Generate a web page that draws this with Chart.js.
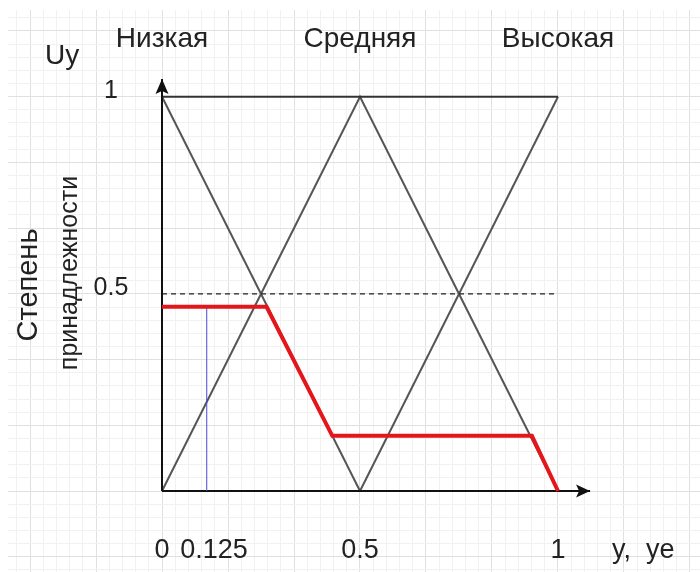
<!DOCTYPE html>
<html><head><meta charset="utf-8">
<script src="https://cdn.jsdelivr.net/npm/chart.js@4/dist/chart.umd.min.js"></script>
<style>html,body{margin:0;padding:0;background:#fff}canvas{display:block}</style>
</head><body>
<canvas id="c" width="700" height="572"></canvas>
<script>
// ---- data ----
const categories = ['Низкая', 'Средняя', 'Высокая'];
const categoryCenters = [0, 0.5, 1];
const xTickValues = [0, 0.125, 0.5, 1];
const xTickLabels = ['0', '0.125', '0.5', '1'];
const yTickValues = [1, 0.5];
const yTickLabels = ['1', '0.5'];
const yAxisTitle = ['Степень', 'принадлежности'];
const yAxisName = 'Uy';
const xAxisName = 'y,  ye';

const lowX = [0, 0.5],        lowY = [1, 0];
const midX = [0, 0.5, 1],     midY = [0, 1, 0];
const highX = [0.5, 1],       highY = [0, 1];
const topX = [0, 1],          topY = [1, 1];
const resultX = [0, 0.264, 0.43, 0.934, 1];
const resultY = [0.467, 0.467, 0.14, 0.14, 0];
const inputX = [0.113, 0.113], inputY = [0, 0.467];
const halfX = [0, 1],         halfY = [0.5, 0.5];
const xAxisX = [0, 1.081],    xAxisY = [0, 0];
const yAxisX = [0, 0],        yAxisY = [0, 1.045];

// ---- helpers ----
const pts = (xs, ys) => xs.map((x, i) => ({x, y: ys[i]}));
const line = (xs, ys, color, width, order, extra) => Object.assign({
  data: pts(xs, ys), showLine: true, borderColor: color, borderWidth: width,
  pointRadius: 0, pointHoverRadius: 0, fill: false, tension: 0, order
}, extra || {});

function gridTicks(scale) {
  const t = [];
  const a = Math.ceil(scale.min * 30 - 1e-9), b = Math.floor(scale.max * 30 + 1e-9);
  for (let k = a; k <= b; k++) t.push({value: k / 30});
  scale.ticks = t;
}
const gridColor = c => (Math.abs(Math.round(c.tick.value * 30)) % 5 === 0) ? '#e0e0e0' : '#f1f1f1';

const textPlugin = {
  id: 'texts',
  afterDatasetsDraw(chart) {
    const {ctx, scales: {x, y}} = chart;
    ctx.save();
    // arrow heads
    ctx.fillStyle = '#111';
    const ytx = x.getPixelForValue(yAxisX[1]), yty = y.getPixelForValue(yAxisY[1]);
    ctx.beginPath(); ctx.moveTo(ytx, yty); ctx.lineTo(ytx - 6.5, yty + 15); ctx.lineTo(ytx, yty + 12); ctx.lineTo(ytx + 6.5, yty + 15); ctx.closePath(); ctx.fill();
    const xtx = x.getPixelForValue(xAxisX[1]), xty = y.getPixelForValue(xAxisY[1]);
    ctx.beginPath(); ctx.moveTo(xtx, xty); ctx.lineTo(xtx - 14, xty - 6.5); ctx.lineTo(xtx - 11, xty); ctx.lineTo(xtx - 14, xty + 6.5); ctx.closePath(); ctx.fill();

    ctx.fillStyle = '#222';
    ctx.textBaseline = 'alphabetic';
    // category names
    ctx.font = '28px "Liberation Sans", Arial, sans-serif';
    ctx.textAlign = 'center';
    categories.forEach((c, i) => ctx.fillText(c, x.getPixelForValue(categoryCenters[i]), 47));
    // y axis name
    ctx.font = '28px "Liberation Sans", Arial, sans-serif';
    ctx.textAlign = 'left';
    ctx.fillText(yAxisName, 45, 64);
    // y tick labels
    ctx.font = '25px "Liberation Sans", Arial, sans-serif';
    ctx.textAlign = 'center';
    yTickValues.forEach((v, i) => ctx.fillText(yTickLabels[i], 111, y.getPixelForValue(v) + 1));
    // x tick labels
    ctx.font = '27px "Liberation Sans", Arial, sans-serif';
    xTickValues.forEach((v, i) => {
      const px = x.getPixelForValue(v) + (i === 1 ? 2.5 : 0);
      ctx.fillText(xTickLabels[i], px, 558);
    });
    ctx.textAlign = 'left';
    ctx.fillText(xAxisName, 612, 558);
    // rotated title
    ctx.textAlign = 'center';
    ctx.save(); ctx.translate(37, 285); ctx.rotate(-Math.PI / 2);
    ctx.font = '29px "Liberation Sans", Arial, sans-serif';
    ctx.fillText(yAxisTitle[0], 0, 0); ctx.restore();
    ctx.save(); ctx.translate(77, 273); ctx.rotate(-Math.PI / 2);
    ctx.font = '25px "Liberation Sans", Arial, sans-serif';
    ctx.fillText(yAxisTitle[1], 0, 0); ctx.restore();
    ctx.restore();
  }
};

new Chart(document.getElementById('c'), {
  type: 'scatter',
  data: {
    datasets: [
      line(resultX, resultY, '#e5161b', 4, 0, {borderJoinStyle: 'miter'}),
      line(inputX, inputY, '#4a4ad0', 1, 1),
      line(xAxisX, xAxisY, '#111', 2, 2),
      line(yAxisX, yAxisY, '#111', 2, 2),
      line(halfX, halfY, '#222', 1.3, 3, {borderDash: [5, 4]}),
      line(topX, topY, '#333', 2, 4),
      line(lowX, lowY, '#555', 2, 5),
      line(midX, midY, '#555', 2, 5),
      line(highX, highY, '#555', 2, 5)
    ]
  },
  options: {
    responsive: false, animation: false, devicePixelRatio: 1,
    layout: {padding: {left: 8, top: 10, right: 0, bottom: 0}},
    plugins: {legend: {display: false}, tooltip: {enabled: false}},
    events: [],
    scales: {
      x: {type: 'linear', min: -0.3889, max: 1.3586, afterBuildTicks: gridTicks,
          ticks: {display: false}, border: {display: false},
          grid: {color: gridColor, lineWidth: 1, drawTicks: false, tickLength: 0}},
      y: {type: 'linear', min: -0.2054, max: 1.2199, afterBuildTicks: gridTicks,
          ticks: {display: false}, border: {display: false},
          grid: {color: gridColor, lineWidth: 1, drawTicks: false, tickLength: 0}}
    }
  },
  plugins: [textPlugin]
});
</script>
</body></html>
